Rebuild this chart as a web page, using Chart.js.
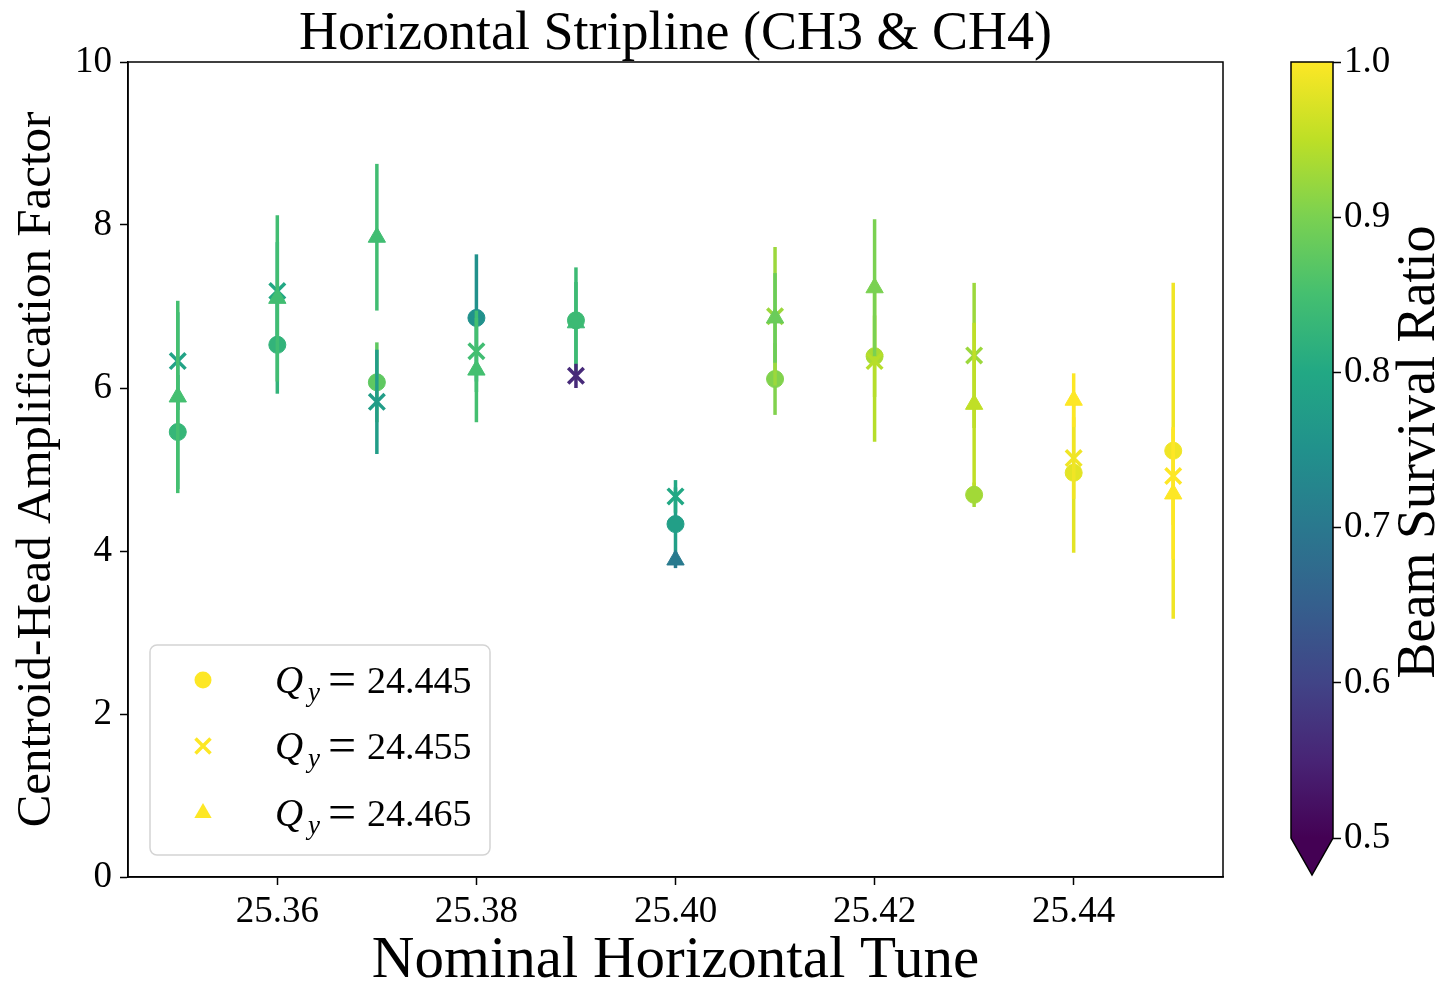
<!DOCTYPE html>
<html>
<head>
<meta charset="utf-8">
<script src="https://cdn.jsdelivr.net/npm/chart.js"></script>
<style>
  body { margin: 0; background: #fff; }
  #main { position: absolute; left: 0; top: 0; }
  #cbar { position: absolute; left: 1260px; top: 0; }
</style>
</head>
<body>
<canvas id="main" width="1260" height="984"></canvas>
<canvas id="cbar" width="186" height="984"></canvas>
<script>
/* data */
const TUNES = [25.35, 25.36, 25.37, 25.38, 25.39, 25.40, 25.41, 25.42, 25.43, 25.44, 25.45];
const X_TICKS = [25.36, 25.38, 25.40, 25.42, 25.44];
const Y_TICKS = [0, 2, 4, 6, 8, 10];
const CB_TICKS = [0.5, 0.6, 0.7, 0.8, 0.9, 1.0];

const AMP_445  = [5.46, 6.53, 6.07, 6.86, 6.83, 4.33, 6.11, 6.39, 4.69, 4.96, 5.23];
const ERR_445  = [0.70, 0.60, 0.49, 0.78, 0.65, 0.45, 0.44, 0.50, 0.15, 0.98, 2.06];
const SURV_445 = [0.83, 0.825, 0.875, 0.75, 0.84, 0.78, 0.905, 0.935, 0.93, 0.98, 0.99];

const AMP_455  = [6.33, 7.19, 5.83, 6.45, 6.15, 4.67, 6.88, 6.33, 6.40, 5.14, 4.92];
const ERR_455  = [0.60, 0.60, 0.64, 0.50, 0.15, 0.20, 0.85, 0.99, 0.89, 0.50, 0.60];
const SURV_455 = [0.79, 0.80, 0.775, 0.845, 0.56, 0.80, 0.925, 0.945, 0.925, 0.99, 1.0];

const AMP_465  = [5.89, 7.10, 7.85, 6.22, 6.80, 3.89, 6.86, 7.23, 5.80, 5.85, 4.70];
const ERR_465  = [1.18, 1.02, 0.90, 0.64, 0.50, 0.10, 0.55, 0.84, 1.00, 0.33, 0.80];
const SURV_465 = [0.85, 0.845, 0.845, 0.85, 0.84, 0.705, 0.885, 0.90, 0.952, 1.0, 1.0];

const LEGEND_LABELS = ['24.445', '24.455', '24.465'];

/* viridis, 11 stops */
const VIRIDIS = ['#440154', '#482475', '#414487', '#355f8d', '#2a788e', '#21918c',
                 '#22a884', '#44bf70', '#7ad151', '#bddf26', '#fde725'];
const CB_MIN = 0.5, CB_MAX = 1.0;
const SERIF = "'Liberation Serif', 'DejaVu Serif', serif";

function hexRgb(h) {
    return [1, 3, 5].map(i => parseInt(h.slice(i, i + 2), 16));
}
function viridis(t) {
    t = Math.min(1, Math.max(0, t));
    const f = t * (VIRIDIS.length - 1);
    const i = Math.min(Math.floor(f), VIRIDIS.length - 2);
    const a = hexRgb(VIRIDIS[i]), b = hexRgb(VIRIDIS[i + 1]);
    const k = f - i;
    const c = a.map((v, j) => Math.round(v + (b[j] - v) * k));
    return `rgb(${c[0]},${c[1]},${c[2]})`;
}
const survColor = s => viridis((s - CB_MIN) / (CB_MAX - CB_MIN));

// order: higher is drawn first, so later series end up on top (as in matplotlib)
function makeSeries(label, amps, errs, survs, style, radius, borderWidth, order) {
    const colors = survs.map(survColor);
    return {
        label,
        order,
        data: TUNES.map((x, i) => ({ x, y: amps[i] })),
        errors: errs,
        pointStyle: style,
        pointRadius: radius,
        pointHoverRadius: radius,
        pointBorderWidth: borderWidth,
        pointBackgroundColor: colors,
        pointBorderColor: colors,
        showLine: false,
    };
}

/* vertical error bars, drawn just before each dataset's markers */
const errorBars = {
    id: 'errorBars',
    beforeDatasetDraw(chart, args) {
        const ds = chart.data.datasets[args.index];
        if (!ds.errors) return;
        const { x, y } = chart.scales;
        const ctx = chart.ctx;
        ctx.save();
        ctx.lineWidth = 3.5;
        ds.data.forEach((p, i) => {
            const px = x.getPixelForValue(p.x);
            ctx.strokeStyle = ds.pointBackgroundColor[i];
            ctx.beginPath();
            ctx.moveTo(px, y.getPixelForValue(p.y - ds.errors[i]));
            ctx.lineTo(px, y.getPixelForValue(p.y + ds.errors[i]));
            ctx.stroke();
        });
        ctx.restore();
    }
};

/* title centred over the axes + top/right spines */
const frame = {
    id: 'frame',
    afterDraw(chart) {
        const { ctx, chartArea: a } = chart;
        ctx.save();
        ctx.strokeStyle = '#000';
        ctx.lineWidth = 1.5;
        ctx.strokeRect(a.left, a.top, a.right - a.left, a.bottom - a.top);
        ctx.font = `54px ${SERIF}`;
        ctx.fillStyle = '#000';
        ctx.textAlign = 'center';
        ctx.textBaseline = 'alphabetic';
        ctx.fillText('Horizontal Stripline (CH3 & CH4)', (a.left + a.right) / 2, 49);
        ctx.restore();
    }
};

function drawMarker(ctx, style, x, y, color) {
    ctx.fillStyle = color;
    ctx.strokeStyle = color;
    ctx.beginPath();
    if (style === 'circle') {
        ctx.arc(x, y, 8.5, 0, Math.PI * 2);
        ctx.fill();
    } else if (style === 'crossRot') {
        const d = 7.5;
        ctx.lineWidth = 3.5;
        ctx.moveTo(x - d, y - d); ctx.lineTo(x + d, y + d);
        ctx.moveTo(x + d, y - d); ctx.lineTo(x - d, y + d);
        ctx.stroke();
    } else {
        const r = 10;
        for (let k = 0; k < 3; k++) {
            const ang = k * 2 * Math.PI / 3;
            const px = x + Math.sin(ang) * r, py = y - Math.cos(ang) * r;
            k ? ctx.lineTo(px, py) : ctx.moveTo(px, py);
        }
        ctx.closePath();
        ctx.fill();
    }
}

/* legend box in lower-left of the axes */
const qyLegend = {
    id: 'qyLegend',
    afterDraw(chart) {
        const ctx = chart.ctx;
        const bx = 150, by = 645, bw = 340, bh = 210, r = 7;
        ctx.save();
        ctx.beginPath();
        ctx.roundRect(bx, by, bw, bh, r);
        ctx.fillStyle = 'rgba(255,255,255,0.8)';
        ctx.fill();
        ctx.strokeStyle = '#d4d4d4';
        ctx.lineWidth = 1.5;
        ctx.stroke();
        const rows = [680, 746, 813];
        chart.data.datasets.forEach((ds, i) => {
            const yy = rows[i];
            drawMarker(ctx, ds.pointStyle, 203, yy, viridis(1));
            ctx.fillStyle = '#000';
            ctx.textBaseline = 'alphabetic';
            const base = yy + 13;
            ctx.font = `italic 39px ${SERIF}`;
            ctx.fillText('Q', 275, base);
            ctx.font = `italic 27px ${SERIF}`;
            ctx.fillText('y', 308, base + 8);
            ctx.font = `50px ${SERIF}`;
            ctx.fillText('=', 328, base + 3);
            ctx.font = `38px ${SERIF}`;
            ctx.fillText(LEGEND_LABELS[i], 367, base);
        });
        ctx.restore();
    }
};

const tickFont = { family: SERIF, size: 37 };

new Chart(document.getElementById('main'), {
    type: 'scatter',
    data: {
        datasets: [
            makeSeries('Qy=24.445', AMP_445, ERR_445, SURV_445, 'circle', 8.5, 1, 3),
            makeSeries('Qy=24.455', AMP_455, ERR_455, SURV_455, 'crossRot', 11, 3.5, 2),
            makeSeries('Qy=24.465', AMP_465, ERR_465, SURV_465, 'triangle', 10, 1, 1),
        ]
    },
    options: {
        responsive: false,
        animation: false,
        events: [],
        layout: { padding: { left: 0, right: 37, top: 62, bottom: 0 } },
        plugins: {
            legend: { display: false },
            tooltip: { enabled: false },
            title: { display: false }
        },
        scales: {
            x: {
                type: 'linear',
                min: 25.345,
                max: 25.455,
                afterBuildTicks: s => { s.ticks = X_TICKS.map(v => ({ value: v })); },
                afterFit: s => { s.height = 107; },
                ticks: { color: '#000', font: tickFont, padding: 5, maxRotation: 0,
                         callback: v => v.toFixed(2) },
                grid: { drawOnChartArea: false, drawTicks: true, tickLength: 8,
                        tickColor: '#000', tickWidth: 1.5 },
                border: { color: '#000', width: 1.5 },
                title: { display: true, text: 'Nominal Horizontal Tune', color: '#000',
                         font: { family: SERIF, size: 59, lineHeight: 0.76 }, padding: 0 },
            },
            y: {
                min: 0,
                max: 10,
                afterBuildTicks: s => { s.ticks = Y_TICKS.map(v => ({ value: v })); },
                afterFit: s => { s.width = 128; },
                ticks: { color: '#000', font: tickFont, padding: 8 },
                grid: { drawOnChartArea: false, drawTicks: true, tickLength: 8,
                        tickColor: '#000', tickWidth: 1.5 },
                border: { color: '#000', width: 1.5 },
                title: { display: true, text: 'Centroid-Head Amplification Factor', color: '#000',
                         font: { family: SERIF, size: 49 }, padding: { top: 8, bottom: 0 } },
            }
        }
    },
    plugins: [errorBars, frame, qyLegend]
});

/* ─── colour bar ─── */
const cbOutline = {
    id: 'cbOutline',
    afterDraw(chart) {
        const { ctx, chartArea: a } = chart;
        const mid = (a.left + a.right) / 2;
        ctx.save();
        // extend-min triangle
        ctx.beginPath();
        ctx.moveTo(a.left, a.bottom);
        ctx.lineTo(a.right, a.bottom);
        ctx.lineTo(mid, a.bottom + 37);
        ctx.closePath();
        ctx.fillStyle = VIRIDIS[0];
        ctx.fill();
        // outline round bar + triangle
        ctx.beginPath();
        ctx.moveTo(a.left, a.bottom);
        ctx.lineTo(a.left, a.top);
        ctx.lineTo(a.right, a.top);
        ctx.lineTo(a.right, a.bottom);
        ctx.lineTo(mid, a.bottom + 37);
        ctx.closePath();
        ctx.strokeStyle = '#000';
        ctx.lineWidth = 1.5;
        ctx.stroke();
        // label, reading bottom to top
        ctx.translate(1420 - 1260, (a.top + a.bottom) / 2 + 2);
        ctx.rotate(-Math.PI / 2);
        ctx.font = `54px ${SERIF}`;
        ctx.fillStyle = '#000';
        ctx.textAlign = 'center';
        ctx.textBaseline = 'middle';
        ctx.fillText('Beam Survival Ratio', 0, 0);
        ctx.restore();
    }
};

new Chart(document.getElementById('cbar'), {
    type: 'bar',
    data: {
        labels: [''],
        datasets: [{
            data: [[CB_MIN, CB_MAX]],
            barPercentage: 1,
            categoryPercentage: 1,
            borderWidth: 0,
            backgroundColor: ctx => {
                const a = ctx.chart.chartArea;
                if (!a) return VIRIDIS[5];
                const g = ctx.chart.ctx.createLinearGradient(0, a.bottom, 0, a.top);
                VIRIDIS.forEach((c, i) => g.addColorStop(i / (VIRIDIS.length - 1), c));
                return g;
            }
        }]
    },
    options: {
        responsive: false,
        animation: false,
        events: [],
        layout: { padding: { left: 31, right: 0, top: 62, bottom: 146 } },
        plugins: { legend: { display: false }, tooltip: { enabled: false } },
        scales: {
            x: { display: false },
            y: {
                position: 'right',
                min: CB_MIN,
                max: CB_MAX,
                afterBuildTicks: s => { s.ticks = CB_TICKS.map(v => ({ value: v })); },
                afterFit: s => { s.width = 113; },
                ticks: { color: '#000', font: tickFont, padding: 3, callback: v => v.toFixed(1) },
                grid: { drawOnChartArea: false, drawTicks: true, tickLength: 8,
                        tickColor: '#000', tickWidth: 1.5 },
                border: { display: false },
            }
        }
    },
    plugins: [cbOutline]
});
</script>
</body>
</html>
